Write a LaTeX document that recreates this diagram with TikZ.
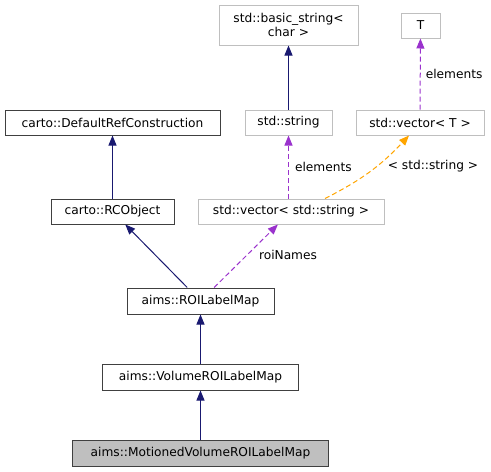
\documentclass[tikz,border=0pt]{standalone}
\usepackage{fontspec}
\setmainfont{DejaVu Sans}
\usepackage{tikz}
\usetikzlibrary{positioning}
\usetikzlibrary{arrows.meta}
\definecolor{edgeblue}{HTML}{191970}
\definecolor{edgepurple}{HTML}{9A32CD}
\definecolor{edgeorange}{HTML}{FFA500}
\definecolor{boxgrey}{HTML}{BFBFBF}
\definecolor{boxdark}{HTML}{404040}
\tikzset{cls/.style={draw=boxdark, line width=1pt, inner sep=0pt, minimum height=25pt, font=\fontsize{12.2}{14}\selectfont},
ext/.style={cls, draw=boxgrey},
inh/.style={edgeblue, line width=1pt, -{Triangle[width=8pt,length=10pt]}},
use/.style={edgepurple, line width=1pt, dash pattern=on 5pt off 3pt, -{Triangle[width=8pt,length=10pt]}},
tpl/.style={use, edgeorange},
lbl/.style={text=black, font=\fontsize{12.2}{14}\selectfont, inner sep=0pt}}

\begin{document}
\begin{tikzpicture}[x=1pt, y=-1pt]
\useasboundingbox (0,0) rectangle (491,472);
\node[ext, minimum width=139pt, minimum height=40pt, align=center] (basic) at (288.5,25) {std::basic\_string<\\char >};
\node[ext, minimum width=39pt] (T) at (420.5,25.5) {T};
\node[cls, minimum width=215pt] (defref) at (112.5,122.5) {carto::DefaultRefConstruction};
\node[ext, minimum width=87pt] (string) at (288.5,122.5) {std::string};
\node[ext, minimum width=128pt] (vecT) at (420,122.5) {std::vector< T >};
\node[cls, minimum width=123pt] (rcobj) at (112.5,211.5) {carto::RCObject};
\node[ext, minimum width=186pt] (vecS) at (291,211.5) {std::vector< std::string >};
\node[cls, minimum width=147pt, minimum height=26pt] (roi) at (200.5,301) {aims::ROILabelMap};
\node[cls, minimum width=196pt, minimum height=26pt] (vol) at (200.5,377) {aims::VolumeROILabelMap};
\node[cls, fill=boxgrey, minimum width=256pt, minimum height=26pt] (mot) at (200.5,453) {aims::MotionedVolumeROILabelMap};

\draw[inh] (string) -- (basic);
\draw[inh] (rcobj) -- (defref);
\draw[inh] (roi) -- (rcobj);
\draw[inh] (vol) -- (roi);
\draw[inh] (mot) -- (vol);
\draw[use] (vecT) -- node[lbl, right=5pt] (lelemT) {elements} (T);
\draw[use] (vecS.north -| string) -- node[lbl, right=6pt] (lelemS) {elements} (string);
\draw[use] (roi) -- (vecS);
\draw[tpl] ([xshift=34pt]vecS.north) to[bend right=10] ([xshift=-11pt]vecT.south);
\node[lbl] (lroi) at (288,255) {roiNames};
\node[lbl] (ltpl) at (433,166) {< std::string >};
\end{tikzpicture}
\end{document}
